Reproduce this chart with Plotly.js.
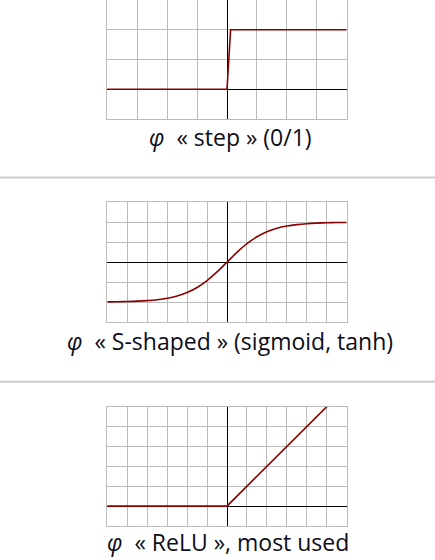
<!DOCTYPE html>
<html><head><meta charset="utf-8">
<script src="https://cdn.plot.ly/plotly-3.0.1.min.js"></script>
<style>html,body{margin:0;padding:0;background:#fff;}#c{width:435px;height:560px;}</style>
</head><body><div id="c"></div>
<script>
// Step function (0/1)
const stepX = [-4, 0, 0.12, 4];
const stepY = [0, 0, 1, 1];
// S-shaped (tanh) values
const sigX = [-3, -2.75, -2.5, -2.25, -2, -1.75, -1.5, -1.25, -1, -0.75, -0.5, -0.25, 0, 0.25, 0.5, 0.75, 1, 1.25, 1.5, 1.75, 2, 2.25, 2.5, 2.75, 3];
const sigY = [-0.995, -0.992, -0.987, -0.978, -0.964, -0.941, -0.905, -0.848, -0.762, -0.635, -0.462, -0.245, 0, 0.245, 0.462, 0.635, 0.762, 0.848, 0.905, 0.941, 0.964, 0.978, 0.987, 0.992, 0.995];
// ReLU
const reluX = [-6, 0, 6];
const reluY = [0, 0, 6];
const captions = ["<i>φ</i>  « step » (0/1)", "<i>φ</i>  « S-shaped » (sigmoid, tanh)", "<i>φ</i>  « ReLU », most used"];

const W = 435, H = 560;
const lineC = '#8b0000';
const traces = [
  {x: stepX, y: stepY, xaxis: 'x', yaxis: 'y', mode: 'lines', line: {color: lineC, width: 1.6}},
  {x: sigX, y: sigY, xaxis: 'x2', yaxis: 'y2', mode: 'lines', line: {color: lineC, width: 1.6, shape: 'spline'}},
  {x: reluX, y: reluY, xaxis: 'x3', yaxis: 'y3', mode: 'lines', line: {color: lineC, width: 1.6}}
];
function ax(range, dtick, dom, anchor) {
  return {range: range, dtick: dtick, tick0: 0, domain: dom, anchor: anchor,
    showticklabels: false, ticks: '', showgrid: true, gridcolor: '#bbbbbb', gridwidth: 1,
    zeroline: true, zerolinecolor: '#000000', zerolinewidth: 1,
    showline: true, mirror: true, linecolor: '#bbbbbb', linewidth: 1, fixedrange: true};
}
const xd = [107.3 / W, 346.7 / W];
function yd(top, bot) { return [1 - bot / H, 1 - top / H]; }
const capFont = {family: 'Open Sans', size: 23, color: '#0d0d1a'};
const layout = {
  width: W, height: H, margin: {l: 0, r: 0, t: 0, b: 0},
  paper_bgcolor: '#fff', plot_bgcolor: '#fff', showlegend: false,
  xaxis: ax([-4, 4], 1, xd, 'y'),
  yaxis: ax([-0.5, 1.5], 0.5, yd(-1, 119), 'x'),
  xaxis2: ax([-3, 3], 0.5, xd, 'y2'),
  yaxis2: ax([-1.5, 1.5], 0.5, yd(202.3, 322), 'x2'),
  xaxis3: ax([-6, 6], 1, xd, 'y3'),
  yaxis3: ax([-1, 5], 1, yd(406.7, 526), 'x3'),
  shapes: [
    {type: 'line', xref: 'paper', yref: 'paper', x0: 0, x1: 1, y0: 1 - 177.5 / H, y1: 1 - 177.5 / H, line: {color: '#cccccc', width: 2}},
    {type: 'line', xref: 'paper', yref: 'paper', x0: 0, x1: 1, y0: 1 - 381.7 / H, y1: 1 - 381.7 / H, line: {color: '#cccccc', width: 2}}
  ],
  annotations: [
    {text: captions[0], xref: 'paper', yref: 'paper', x: 230 / W, y: 1 - 137 / H, showarrow: false, xanchor: 'center', yanchor: 'middle', font: capFont},
    {text: captions[1], xref: 'paper', yref: 'paper', x: 230 / W, y: 1 - 341 / H, showarrow: false, xanchor: 'center', yanchor: 'middle', font: capFont},
    {text: captions[2], xref: 'paper', yref: 'paper', x: 228 / W, y: 1 - 542 / H, showarrow: false, xanchor: 'center', yanchor: 'middle', font: capFont}
  ]
};
Plotly.newPlot('c', traces, layout, {staticPlot: true, displayModeBar: false});
</script></body></html>
